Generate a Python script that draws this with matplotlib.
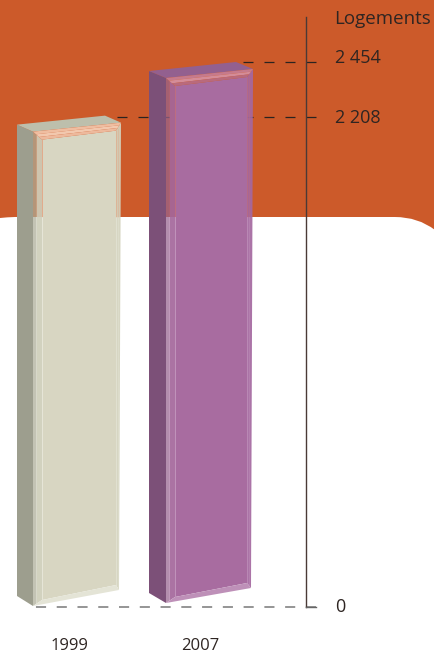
import matplotlib
matplotlib.use("Agg")
import matplotlib.pyplot as plt
from matplotlib.patches import Polygon, PathPatch
from matplotlib.path import Path

categories = ["1999", "2007"]
values = [2208, 2454]
tick_values = [0, 2208, 2454]
tick_labels = ["0", "2 208", "2 454"]
axis_title = "Logements"

W, H = 435, 654
Y0 = 607.0                 # pixel row of value 0
PX_PER_UNIT = 545 / 2454   # pixels per dwelling

fig = plt.figure(figsize=(W / 100, H / 100), dpi=100)
ax = fig.add_axes([0, 0, 1, 1])
ax.set_xlim(0, W)
ax.set_ylim((Y0 - H) / PX_PER_UNIT, Y0 / PX_PER_UNIT)
ax.axis("off")


def v_of(row):
    return (Y0 - row) / PX_PER_UNIT


def row_of(v):
    return Y0 - v * PX_PER_UNIT


ORANGE = "#CC5A2A"
BAND = 217
bg = Path(
    [(0, v_of(0)), (W, v_of(0)), (W, v_of(230)), (418, v_of(217)), (395, v_of(BAND)),
     (15, v_of(BAND)), (7, v_of(217.2)), (0, v_of(218)), (0, v_of(0))],
    [Path.MOVETO, Path.LINETO, Path.LINETO, Path.CURVE3, Path.CURVE3,
     Path.LINETO, Path.CURVE3, Path.CURVE3, Path.CLOSEPOLY],
)
ax.add_patch(PathPatch(bg, fc=ORANGE, ec="none", zorder=0))

# reference lines behind the bars (drawn from the axis end leftwards so a dash ends at the tick)
TXT = "#2e2522"
ax.plot([316, 33], [0, 0], color="#8c8c8c", lw=1.3, dashes=(5.6, 5.9), zorder=1)
for v, x0 in zip(values, [107, 240]):
    ax.plot([316, x0], [v, v], color="#2b2320", lw=0.9, dashes=(8.0, 8.8), zorder=1)
ax.plot([306, 306], [0, v_of(17)], color="#4a3a36", lw=1.0, zorder=6)
ax.plot([306, 316], [0, 0], color="#666666", lw=1.0, zorder=6)

styles = [
    dict(left=17, depth=16, width=88, top=-1.0, bot_front=606, bot_right=590, bot_back=596,
         inset_r=5, side="#9D9E8E", topc="#BDBFAC", face="#D8D6C2",
         strip1="#ADAD97", strip2="#CFCEBA",
         bevel_top=["#EFBDA0", "#F2C8AE", "#EDB99C"], bevel_bot="#E4E4D6", bevel_r="#D4D3BE",
         rim_o="#E3A585", rim_w="#E8E8DA"),
    dict(left=149, depth=17, width=87, top=0.0, bot_front=603, bot_right=588, bot_back=593,
         inset_r=6, side="#7C5078", topc="#93608F", face="#A86CA0",
         strip1="#96638E", strip2="#A4679B",
         bevel_top=["#C67A8C", "#D48C98", "#B96A7C"], bevel_bot="#BE90B8", bevel_r="#A468A0",
         rim_o="#C06E7C", rim_w="#C498BE"),
]

for v, s in zip(values, styles):
    t = row_of(v) + s["top"]
    xl, xf = s["left"], s["left"] + s["depth"]
    xr = xf + s["width"]
    xb = xl + s["width"]
    xi, xj = xf + 9, xr - s["inset_r"]
    fl, fr = t + 16, t + 7          # front-left, front-right top rows
    il, ir = fl + 8, fr + 8         # inner top rows
    bf, br = s["bot_front"], s["bot_right"]
    xbr = xr - 2
    ib, jb = bf - 6, br - 5         # inner bottom rows

    def poly(pts, **kw):
        ax.add_patch(Polygon([(x, v_of(r)) for x, r in pts], closed=True, ec="none", **kw))

    poly([(xl, t + 9), (xf, fl), (xf, bf), (xl, s["bot_back"])], fc=s["side"], zorder=3)
    poly([(xl, t + 9), (xb, t), (xr, fr), (xf, fl)], fc=s["topc"], zorder=3)
    poly([(xi, il), (xj, ir), (xj, jb), (xi, ib)], fc=s["face"], zorder=3)
    # translucent bevels let the background show through
    poly([(xj, ir), (xr, fr), (xbr, br), (xj, jb)], fc=s["bevel_r"], alpha=0.92, zorder=3)
    strips = [(0, 3.5, s["strip1"], 0.72), (3.5, 9, s["strip2"], 0.92)]
    for a, b, col, al in strips:
        ra = fl + (il - fl) * a / 9
        rb = fl + (il - fl) * b / 9
        ea = bf - (bf - ib) * a / 9
        eb = bf - (bf - ib) * b / 9
        poly([(xf + a, ra), (xf + b, rb), (xf + b, eb), (xf + a, ea)], fc=col, alpha=al, zorder=3)
    # top bevel as three shaded bands
    for k, col in enumerate(s["bevel_top"]):
        f0, f1 = k / 3, (k + 1) / 3
        poly([(xf + (xi - xf) * f0, fl + (il - fl) * f0), (xr + (xj - xr) * f0, fr + (ir - fr) * f0),
              (xr + (xj - xr) * f1, fr + (ir - fr) * f1), (xf + (xi - xf) * f1, fl + (il - fl) * f1)],
             fc=col, zorder=4)
    poly([(xf, bf), (xbr, br), (xj, jb), (xi, ib)], fc=s["bevel_bot"], zorder=4)
    # inner rim lines: tinted over the orange band, pale on white
    for x, r0, r1, al in [(xi, il, ib, 0.9), (xj, ir, jb, 0.6), (xj + 2.5, ir - 2, jb + 2, 0.35)]:
        ax.plot([x, x], [v_of(r0), v_of(BAND)], color=s["rim_o"], lw=0.7, alpha=al, zorder=3.5)
        ax.plot([x, x], [v_of(BAND), v_of(r1)], color=s["rim_w"], lw=0.7, alpha=al, zorder=3.5)

FONT = "Open Sans"
for cat, x in zip(categories, [69, 200]):
    ax.text(x, v_of(646), cat, ha="center", va="center", fontsize=12, color=TXT, family=FONT)
# the printed labels sit slightly off their tick rows
label_rows = [607, 118, 58]
for row, lab in zip(label_rows, tick_labels):
    ax.text(335, v_of(row), lab, ha="left", va="center", fontsize=13, color=TXT, family=FONT)
ax.text(334, v_of(19), axis_title, ha="left", va="center", fontsize=13.5, color=TXT, family=FONT)

fig.savefig("out.png", dpi=100)
